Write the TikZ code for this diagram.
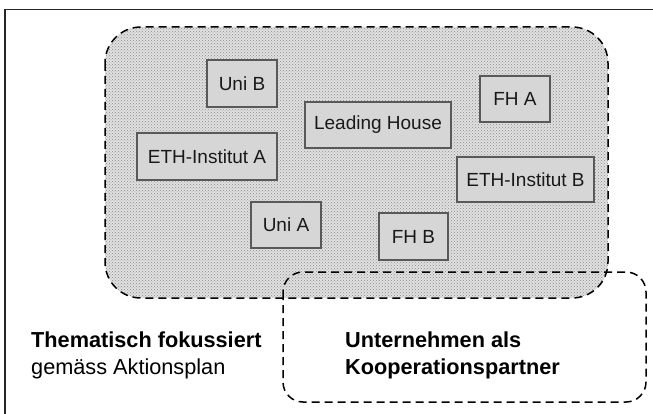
\documentclass[tikz,border=0pt]{standalone}
\usepackage{fontspec}
\setmainfont{Liberation Sans}
\usetikzlibrary{patterns}
\begin{document}
\begin{tikzpicture}[x=1pt,y=-1pt,
  boxnode/.style={draw=black!65,line width=1.8pt,fill=black!16,inner sep=0pt,
    font=\fontsize{19}{23}\selectfont,text=black!90},
  dashedframe/.style={draw=black,line width=1.5pt,dash pattern=on 8pt off 5pt},
  labelnode/.style={anchor=base west,inner sep=0pt,font=\fontsize{21.7}{27}\selectfont}]
\useasboundingbox (0,0) rectangle (653,414);
% frame (top and left only)
\draw[line width=1.8pt,black!85] (5,414) -- (5,9.5) -- (653,9.5);
% thematic area
\fill[black!12] (105,27) [rounded corners=36pt] rectangle (608,298);
\fill[pattern=crosshatch dots,pattern color=black!45] (105,27) [rounded corners=36pt] rectangle (608,298);
\draw[dashedframe] (105,27) [rounded corners=36pt] rectangle (608,298);
% company area
\draw[dashedframe] (283,272) [rounded corners=20pt] rectangle (646,402);
% boxes
\node[boxnode,minimum width=70pt,minimum height=47pt] (unib) at (242,83.5) {Uni B};
\node[boxnode,minimum width=140pt,minimum height=47pt] (etha) at (207,156.5) {ETH-Institut A};
\node[boxnode,minimum width=146pt,minimum height=46pt] (lh) at (378,125) {Leading House};
\node[boxnode,minimum width=70pt,minimum height=46pt] (fha) at (515,99) {FH A};
\node[boxnode,minimum width=137pt,minimum height=45pt] (ethb) at (525.5,179.5) {ETH-Institut B};
\node[boxnode,minimum width=70pt,minimum height=46pt] (unia) at (286,225) {Uni A};
\node[boxnode,minimum width=69pt,minimum height=47pt] (fhb) at (413.5,236.5) {FH B};
% labels
\node[labelnode] (them1) at (31,347) {\bfseries Thematisch fokussiert};
\node[labelnode] (them2) at (31,374) {gemäss Aktionsplan};
\node[labelnode] (unt1) at (345,347) {\bfseries Unternehmen als};
\node[labelnode] (unt2) at (345,374) {\bfseries Kooperationspartner};
\end{tikzpicture}
\end{document}
